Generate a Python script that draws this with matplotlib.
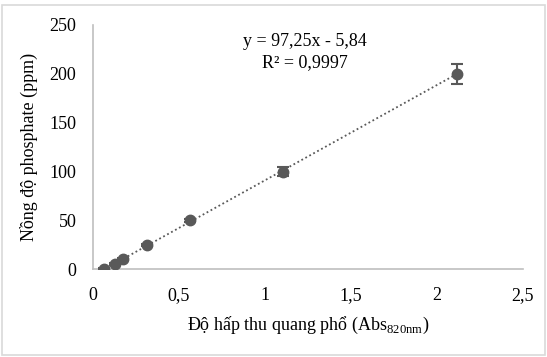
import matplotlib.pyplot as plt
import numpy as np

plt.rcParams['font.family'] = ['Liberation Serif', 'DejaVu Serif']

# Dữ liệu đường chuẩn phosphate
abs_820 = [0.064, 0.13, 0.175, 0.315, 0.565, 1.105, 2.115]
conc_ppm = [0, 5, 10, 25, 50, 100, 200]
err_ppm = [0.8, 1.0, 1.0, 1.2, 1.5, 5, 10]
xticks = [0, 0.5, 1, 1.5, 2, 2.5]
xtick_labels = ['0', '0,5', '1', '1,5', '2', '2,5']
yticks = [0, 50, 100, 150, 200, 250]

fig = plt.figure(figsize=(5.47, 3.57), dpi=100)
ax = fig.add_axes([0.17, 0.246, 0.786, 0.684])

# Đường hồi quy tuyến tính
a, b = np.polyfit(abs_820, conc_ppm, 1)
xf = np.array([min(abs_820), max(abs_820)])
ax.plot(xf, a * xf + b, linestyle=(0, (1, 1.5)), color='#595959', linewidth=1.3, zorder=2)

ax.errorbar(abs_820, conc_ppm, yerr=err_ppm, fmt='o', color='#595959', markersize=7.5,
            ecolor='#595959', elinewidth=1.5, capsize=4, capthick=1.5, zorder=3)

ax.text(1.23, 233, 'y = 97,25x - 5,84', ha='center', va='center', fontsize=13)
ax.text(1.23, 211, 'R² = 0,9997', ha='center', va='center', fontsize=13)

ax.set_xlim(0, 2.5)
ax.set_ylim(0, 250)
ax.set_xticks(xticks)
ax.set_xticklabels(xtick_labels)
ax.set_yticks(yticks)
ax.tick_params(axis='x', length=0, labelsize=13, pad=13)
ax.tick_params(axis='y', length=0, labelsize=13, pad=12)
for s in ['top', 'right']:
    ax.spines[s].set_visible(False)
for s in ['left', 'bottom']:
    ax.spines[s].set_color('#bfbfbf')
    ax.spines[s].set_linewidth(1.2)

ax.set_xlabel('Độ hấp thu quang phổ (Abs$_{\\mathregular{820nm}}$)', fontsize=13, labelpad=8)
ax.set_ylabel('Nồng độ phosphate (ppm)', fontsize=13, labelpad=8)

# Khung viền ngoài
fig.patches.append(plt.Rectangle((0.004, 0.006), 0.992, 0.98, transform=fig.transFigure,
                                 fill=False, edgecolor='#d9d9d9', linewidth=1.2))

fig.savefig('out.png', dpi=100)
